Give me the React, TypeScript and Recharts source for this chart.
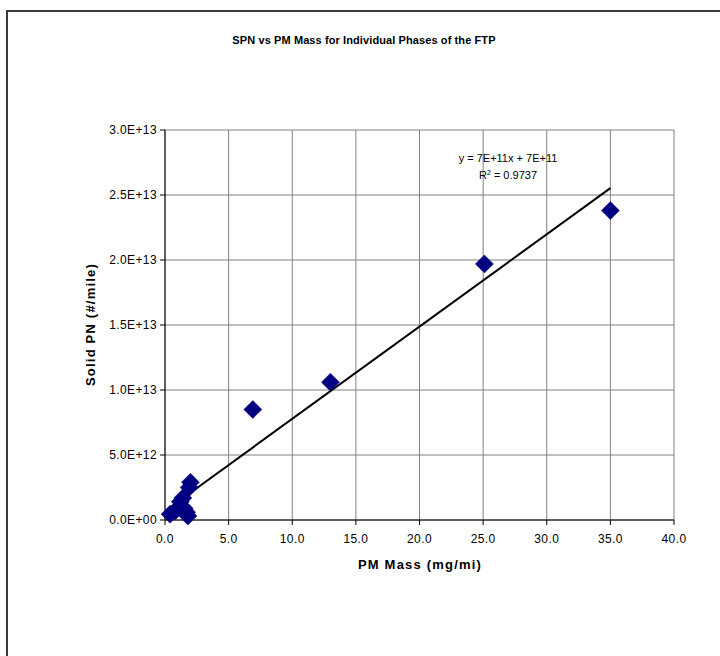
import React from "react";
import {
  ScatterChart,
  Scatter,
  XAxis,
  YAxis,
  CartesianGrid,
  ReferenceLine,
} from "recharts";

// PM mass (mg/mi) and solid particle number (#/mile) per FTP phase
const pmMass = [0.4, 0.8, 1.2, 1.4, 1.5, 1.7, 1.8, 1.9, 2.0, 6.9, 13.0, 25.1, 35.0];
const solidPn = [
  4.5e11, 7e11, 1.4e12, 1.7e12, 9e11, 6e11, 3e11, 2.5e12, 2.9e12, 8.5e12, 1.06e13,
  1.97e13, 2.38e13,
];

const xTicks = [0, 5, 10, 15, 20, 25, 30, 35, 40];
const yTicks = [0, 5e12, 1e13, 1.5e13, 2e13, 2.5e13, 3e13];
const yTickLabels = ["0.0E+00", "5.0E+12", "1.0E+13", "1.5E+13", "2.0E+13", "2.5E+13", "3.0E+13"];

// linear trendline as reported by the spreadsheet
const trendSlope = 7.1e11;
const trendIntercept = 6.8e11;

const points = pmMass.map((x, i) => ({ x, y: solidPn[i] }));
const xMin = Math.min(...pmMass);
const xMax = Math.max(...pmMass);

const FONT = '"Liberation Sans", Arial, sans-serif';
const NAVY = "#000080";

const Diamond = (props: any) => {
  const { cx, cy } = props;
  const r = 9;
  return (
    <polygon
      points={`${cx},${cy - r} ${cx + r},${cy} ${cx},${cy + r} ${cx - r},${cy}`}
      fill={NAVY}
      stroke={NAVY}
      strokeWidth={0.5}
    />
  );
};

const tickStyle = { fontSize: 12, fill: "#000", fontFamily: FONT, letterSpacing: 0.4 };

export default function App() {
  return (
    <div
      style={{
        position: "fixed",
        left: 0,
        top: 0,
        width: 720,
        height: 656,
        overflow: "hidden",
        background: "#fff",
        fontFamily: FONT,
      }}
    >
      <div
        style={{
          position: "absolute",
          left: 6,
          top: 10,
          width: 740,
          height: 680,
          borderLeft: "2px solid #3a3a3a",
          borderTop: "2px solid #3a3a3a",
        }}
      />
      <div style={{ position: "absolute", left: 0, top: 0 }}>
        <ScatterChart
          width={720}
          height={656}
          margin={{ top: 130, right: 46, bottom: 106, left: 105 }}
        >
          <CartesianGrid stroke="#808080" strokeWidth={1} />
          <XAxis
            type="number"
            dataKey="x"
            domain={[0, 40]}
            ticks={xTicks}
            tickFormatter={(v: number) => v.toFixed(1)}
            axisLine={{ stroke: "#000" }}
            tickLine={{ stroke: "#000" }}
            tickSize={5}
            tickMargin={9}
            height={30}
            tick={tickStyle}
            interval={0}
          />
          <YAxis
            type="number"
            dataKey="y"
            domain={[0, 3e13]}
            ticks={yTicks}
            tickFormatter={(v: number, i: number) => yTickLabels[i]}
            axisLine={{ stroke: "#000" }}
            tickLine={{ stroke: "#000" }}
            tickSize={5}
            tickMargin={3}
            width={60}
            tick={tickStyle}
            interval={0}
          />
          <Scatter data={points} shape={<Diamond />} isAnimationActive={false} />
          <ReferenceLine
            segment={[
              { x: xMin, y: trendSlope * xMin + trendIntercept },
              { x: xMax, y: trendSlope * xMax + trendIntercept },
            ]}
            stroke="#000"
            strokeWidth={2}
            ifOverflow="visible"
          />
        </ScatterChart>
      </div>
      <div
        style={{
          position: "absolute",
          left: 0,
          width: 728,
          top: 34,
          textAlign: "center",
          fontSize: 11,
          fontWeight: "bold",
          letterSpacing: 0.1,
        }}
      >
        SPN vs PM Mass for Individual Phases of the FTP
      </div>
      <div
        style={{
          position: "absolute",
          left: 408,
          width: 200,
          top: 150,
          textAlign: "center",
          fontSize: 11,
          lineHeight: "17px",
        }}
      >
        <div>y = 7E+11x + 7E+11</div>
        <div>
          R<sup style={{ fontSize: 7, verticalAlign: "4px", lineHeight: 0 }}>2</sup> = 0.9737
        </div>
      </div>
      <div
        style={{
          position: "absolute",
          left: 320,
          width: 200,
          top: 557,
          textAlign: "center",
          fontSize: 13,
          fontWeight: "bold",
          letterSpacing: 1.2,
        }}
      >
        PM Mass (mg/mi)
      </div>
      <div
        style={{
          position: "absolute",
          left: 90,
          top: 325,
          width: 200,
          marginLeft: -100,
          marginTop: -8,
          textAlign: "center",
          fontSize: 13,
          fontWeight: "bold",
          letterSpacing: 1.2,
          transform: "rotate(-90deg)",
        }}
      >
        Solid PN (#/mile)
      </div>
    </div>
  );
}
